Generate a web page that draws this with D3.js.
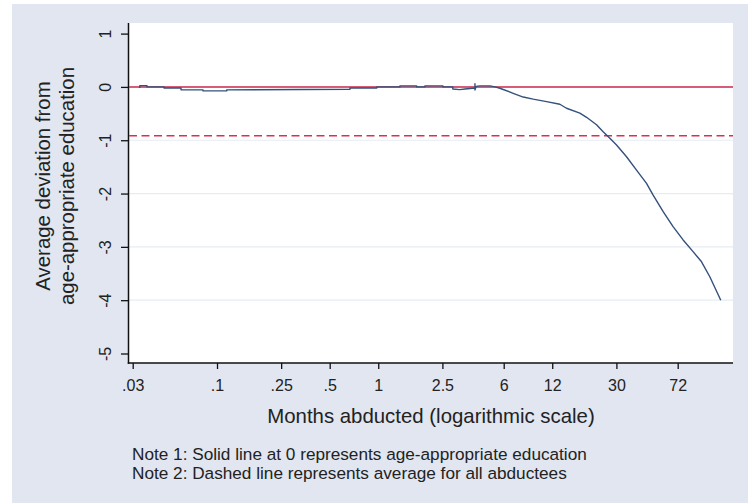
<!DOCTYPE html>
<html>
<head>
<meta charset="utf-8">
<script src="https://cdn.jsdelivr.net/npm/d3@7"></script>
<style>
  body { margin: 0; background: #fff; }
  svg { display: block; font-family: "Liberation Sans", Arial, sans-serif; }
</style>
</head>
<body>
<div id="chart"></div>
<script>
// Months abducted (x, log scale) and average deviation from age-appropriate education (y)
const months = [
  0.0332, 0.0332, 0.0368, 0.0368, 0.0469, 0.0469, 0.0598, 0.0598, 0.0819, 0.0819,
  0.1149, 0.1149, 0.668, 0.668, 0.98, 0.98, 1.363, 1.363, 1.73, 1.73,
  1.948, 1.948, 2.52, 2.52, 2.9, 2.9, 3.2, 3.45, 3.98, 3.98,
  3.98, 4.05, 4.27, 4.93, 5.3, 5.68, 6.87, 7.93, 9.14, 11.07,
  13.38, 14.72, 17.8, 19.59, 22.59, 24.83, 27.33, 30.06, 34.67, 39.99,
  46.13, 50.7, 58.5, 67.4, 77.8, 89.7, 101.2, 113.9, 133.2
];
const deviation = [
  -0.02, 0.025, 0.025, 0, 0, -0.02, -0.02, -0.055, -0.055, -0.075,
  -0.075, -0.055, -0.045, -0.02, -0.02, 0, 0, 0.02, 0.02, 0,
  0, 0.02, 0.02, 0, 0, -0.04, -0.05, -0.04, -0.02, 0.06,
  -0.06, 0.01, 0.02, 0.02, 0, -0.025, -0.12, -0.19, -0.23, -0.275,
  -0.325, -0.40, -0.49, -0.57, -0.71, -0.84, -0.965, -1.09, -1.31, -1.56,
  -1.81, -2.03, -2.34, -2.62, -2.87, -3.09, -3.28, -3.56, -4.0
];
const referenceLevel = 0;       // solid line
const averageAllAbductees = -0.915; // dashed line

const xTicks = [0.03, 0.1, 0.25, 0.5, 1, 2.5, 6, 12, 30, 72];
const xTickLabels = [".03", ".1", ".25", ".5", "1", "2.5", "6", "12", "30", "72"];
const yTicks = [1, 0, -1, -2, -3, -4, -5];
const yGrid = [0, -1, -2, -3, -4];

const notes = [
  "Note 1: Solid line at 0 represents age-appropriate education",
  "Note 2: Dashed line represents average for all abductees"
];

const width = 748, height = 503;
const plot = { left: 129, right: 733, top: 23, bottom: 363 };

const svg = d3.select("#chart").append("svg")
  .attr("width", width)
  .attr("height", height);

// graph region
svg.append("rect")
  .attr("x", 12).attr("y", 4)
  .attr("width", width - 12).attr("height", height - 4)
  .attr("fill", "#e1e6f0");

// plot region
svg.append("rect")
  .attr("x", plot.left).attr("y", plot.top)
  .attr("width", plot.right - plot.left).attr("height", plot.bottom - plot.top)
  .attr("fill", "#fff");

const x = d3.scaleLog().domain([0.03, 72]).range([132.7, 677.7]);
const y = d3.scaleLinear().domain([-5, 1]).range([353.5, 33.6]);

// gridlines
svg.append("g")
  .selectAll("line")
  .data(yGrid)
  .join("line")
  .attr("x1", plot.left).attr("x2", plot.right)
  .attr("y1", d => y(d)).attr("y2", d => y(d))
  .attr("stroke", "#e6ecf4")
  .attr("stroke-width", 1.2);

// y axis (plain hyphen for negatives, as in the original)
const yAxis = svg.append("g")
  .attr("transform", `translate(${plot.left},0)`)
  .call(d3.axisLeft(y).tickValues(yTicks).tickSize(8).tickFormat(d => String(d)));
yAxis.select(".domain").remove();
yAxis.selectAll(".tick line").attr("stroke", "#111").attr("stroke-width", 1.3);
yAxis.selectAll(".tick text")
  .attr("x", null).attr("dy", null)
  .attr("transform", "translate(-24,0) rotate(-90)")
  .attr("text-anchor", "middle")
  .attr("dominant-baseline", "central")
  .attr("fill", "#222")
  .style("font-size", "16px")
  .style("font-family", "Liberation Sans, Arial, sans-serif");

// x axis
const xAxis = svg.append("g")
  .attr("transform", `translate(0,${plot.bottom})`)
  .call(d3.axisBottom(x).tickValues(xTicks).tickSize(6)
    .tickFormat((d, i) => xTickLabels[i]));
xAxis.select(".domain").remove();
xAxis.selectAll(".tick line").attr("stroke", "#111").attr("stroke-width", 1.3);
xAxis.selectAll(".tick text")
  .attr("y", 28).attr("dy", null)
  .attr("fill", "#222")
  .style("font-size", "16px")
  .style("font-family", "Liberation Sans, Arial, sans-serif");

// axis lines
svg.append("line")
  .attr("x1", plot.left - 0.5).attr("x2", plot.left - 0.5)
  .attr("y1", plot.top).attr("y2", plot.bottom + 0.75)
  .attr("stroke", "#111").attr("stroke-width", 1.5);
svg.append("line")
  .attr("x1", plot.left - 1.25).attr("x2", plot.right)
  .attr("y1", plot.bottom).attr("y2", plot.bottom)
  .attr("stroke", "#111").attr("stroke-width", 1.5);

// reference lines
svg.append("line")
  .attr("x1", plot.left).attr("x2", plot.right)
  .attr("y1", y(referenceLevel)).attr("y2", y(referenceLevel))
  .attr("stroke", "#d02a4c").attr("stroke-width", 1.5);
svg.append("line")
  .attr("x1", plot.left).attr("x2", plot.right)
  .attr("y1", y(averageAllAbductees)).attr("y2", y(averageAllAbductees))
  .attr("stroke", "#de2c52").attr("stroke-width", 1.6)
  .attr("stroke-dasharray", "8,4.5");

// data line
const points = months.map((m, i) => [m, deviation[i]]);
svg.append("path")
  .datum(points)
  .attr("fill", "none")
  .attr("stroke", "#34507c")
  .attr("stroke-width", 1.4)
  .attr("stroke-linejoin", "round")
  .attr("d", d3.line().x(d => x(d[0])).y(d => y(d[1])));

// titles
svg.append("text")
  .attr("x", 431).attr("y", 423)
  .attr("text-anchor", "middle")
  .attr("fill", "#222")
  .style("font-size", "20.4px")
  .text("Months abducted (logarithmic scale)");

const yTitle = ["Average deviation from", "age-appropriate education"];
svg.append("g")
  .selectAll("text")
  .data(yTitle)
  .join("text")
  .attr("transform", (d, i) => `translate(${50 + i * 23.5},186) rotate(-90)`)
  .attr("text-anchor", "middle")
  .attr("fill", "#222")
  .style("font-size", "20.4px")
  .text(d => d);

svg.append("g")
  .selectAll("text")
  .data(notes)
  .join("text")
  .attr("x", 132)
  .attr("y", (d, i) => 460 + i * 19.3)
  .attr("fill", "#222")
  .style("font-size", "17.2px")
  .text(d => d);
</script>
</body>
</html>
